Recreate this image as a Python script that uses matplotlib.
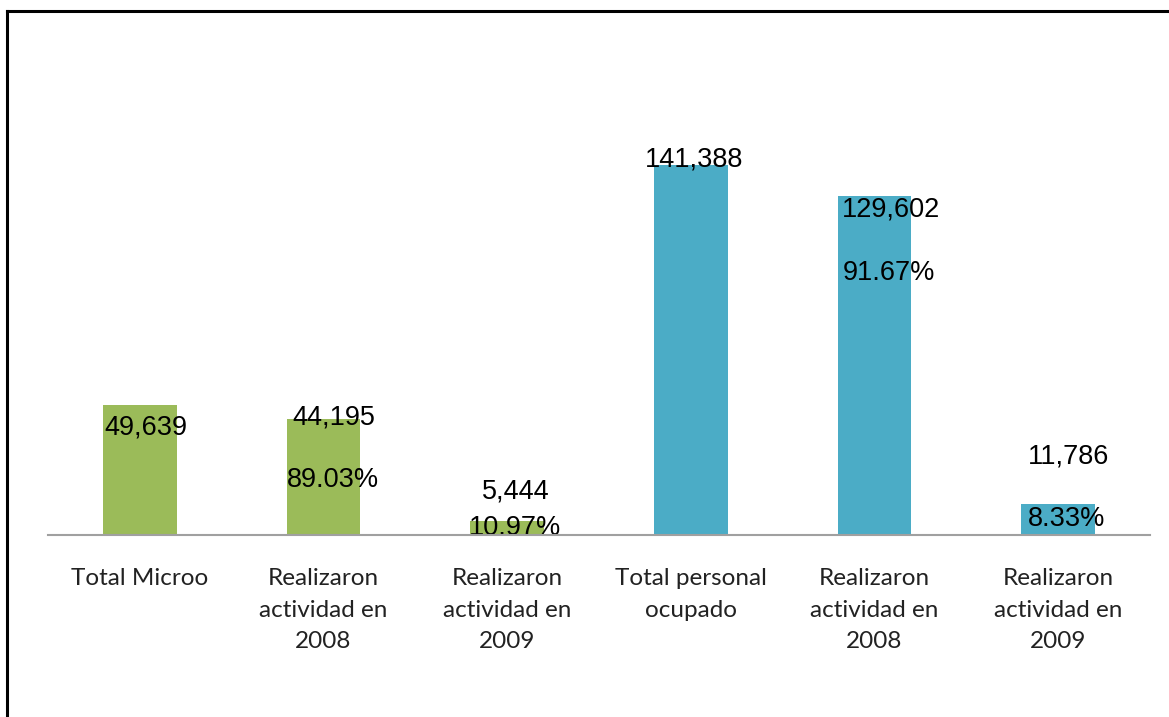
import matplotlib
matplotlib.use("Agg")
import matplotlib.pyplot as plt
from matplotlib.lines import Line2D

# data
categories = ["Total Microo", "Realizaron\nactividad en\n2008", "Realizaron\nactividad en\n2009",
              "Total personal\nocupado", "Realizaron\nactividad en\n2008", "Realizaron\nactividad en\n2009"]
values = [49639, 44195, 5444, 141388, 129602, 11786]
value_labels = ["49,639", "44,195", "5,444", "141,388", "129,602", "11,786"]
pct_labels = ["", "89.03%", "10.97%", "", "91.67%", "8.33%"]

green = "#9BBB59"
blue = "#4BACC6"
colors = [green, green, green, blue, blue, blue]

# label offsets from bar top (pixels), mimicking the original placement
val_off = [(6, -22), (10, 2), (9, 29), (3, 5), (16, -14), (10, 48)]
pct_off = [(0, 0), (9, -61), (8, -7), (0, 0), (14, -77), (8, -15)]

fig = plt.figure(figsize=(11.69, 7.17), dpi=100)
ax = fig.add_axes([48 / 1169, (717 - 535) / 717, 1102 / 1169, 0.58])

x = range(len(values))
bars = ax.bar(x, values, width=0.4, color=colors, zorder=2)
ax.set_xlim(-0.5, len(values) - 0.5)
ax.set_ylim(0, 0.58 * 717 / 0.002617)

for i, b in enumerate(bars):
    cx = b.get_x() + b.get_width() / 2
    top = b.get_height()
    ax.annotate(value_labels[i], (cx, top), xytext=val_off[i], textcoords="offset pixels",
                ha="center", va="center", fontsize=19.5, family="Liberation Sans", zorder=3)
    if pct_labels[i]:
        ax.annotate(pct_labels[i], (cx, top), xytext=pct_off[i], textcoords="offset pixels",
                    ha="center", va="center", fontsize=19.5, family="Liberation Sans", zorder=3,
                    clip_on=True)

for s in ["top", "right", "left"]:
    ax.spines[s].set_visible(False)
ax.spines["bottom"].set_color("#A0A0A0")
ax.spines["bottom"].set_linewidth(1.5)
ax.spines["bottom"].set_zorder(4)
ax.set_yticks([])
ax.set_xticks(list(x))
ax.set_xticklabels(categories, fontsize=17.5, family="Lato", color="#222222", linespacing=1.62)
ax.tick_params(axis="x", length=0, pad=24)

# outer frame (left and top edges visible)
fig.add_artist(Line2D([6.5 / 1169, 6.5 / 1169], [0, 1 - 11 / 717], color="black", lw=2.2, transform=fig.transFigure))
fig.add_artist(Line2D([6.5 / 1169, 1], [1 - 11 / 717, 1 - 11 / 717], color="black", lw=2.2, transform=fig.transFigure))

plt.savefig("out.png", dpi=100)
